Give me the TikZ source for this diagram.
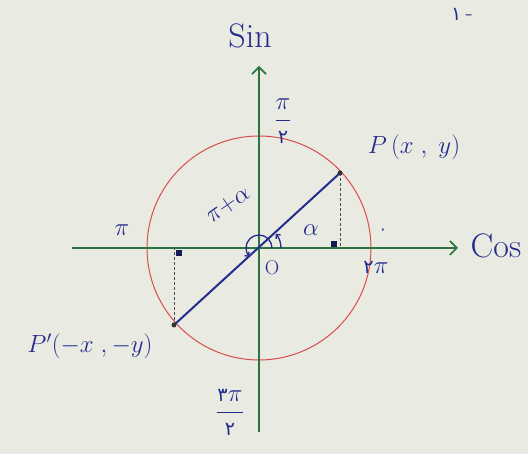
\documentclass[tikz,border=0pt]{standalone}
\usepackage{fontspec}
\newfontfamily\persfont[Script=Arabic,Scale=0.8]{DejaVu Sans}
\usetikzlibrary{arrows.meta, positioning, calc}
\definecolor{inkblue}{RGB}{38,44,140}
\definecolor{axisgreen}{RGB}{45,115,65}
\definecolor{circred}{RGB}{220,75,75}
\definecolor{paper}{RGB}{233,235,227}
\newcommand{\pdig}[1]{{\persfont #1}}

\begin{document}
\begin{tikzpicture}[x=1pt, y=1pt,
  axis/.style={draw=axisgreen, line width=1.6pt, -{Straight Barb[length=7pt,width=14pt,line width=1.6pt]}},
  circ/.style={draw=circred, line width=1pt},
  seg/.style={draw=inkblue, line width=2pt},
  drop/.style={draw=black!70, densely dashed, line width=0.7pt},
  angarc/.style={draw=inkblue, line width=1.3pt, -{Straight Barb[length=3pt,width=6pt]}},
  lbl/.style={text=inkblue, inner sep=1pt, font=\fontsize{24}{28}\selectfont},
  pt/.style={text=inkblue, inner sep=1pt, font=\fontsize{27}{30}\selectfont},
  big/.style={text=inkblue, inner sep=1pt, font=\fontsize{34}{38}\selectfont},
  small/.style={text=inkblue, inner sep=1pt, font=\fontsize{20}{22}\selectfont}
]
\fill[paper] (0,0) rectangle (528,454);
\useasboundingbox (0,0) rectangle (528,454);

\coordinate (O) at (259,206);
\coordinate (xl) at (72,206);
\coordinate (xr) at (458,206);
\coordinate (yb) at (259,22);
\coordinate (yt) at (259,388);
\coordinate (P) at (340,281);
\coordinate (Pp) at (174,129);
\coordinate (Px) at (340,206);
\coordinate (Ppx) at (174,206);

\draw[circ] (O) circle[radius=112pt];
\draw[axis] (xl) -- (xr);
\draw[axis] (yb) -- (yt);
\draw[drop] (P) -- (Px);
\draw[drop] (Pp) -- (Ppx);
\fill[inkblue!60!black] ($(Px)+(-9,1)$) rectangle ++(6,6);
\fill[inkblue!60!black] ($(Ppx)+(2,-8)$) rectangle ++(6,6);
\draw[seg] (Pp) -- (P);
\fill[black!80] (P) circle[radius=2.5pt];
\fill[black!80] (Pp) circle[radius=2.5pt];

\draw[angarc] ($(O)+(22pt,0)$) arc[start angle=0, end angle=40, radius=22pt];
\draw[angarc] ($(O)+(13pt,0)$) arc[start angle=0, end angle=222, radius=13pt];

\node[big] (sin) at (250,418) {Sin};
\node[big] (cos) at (496,208) {Cos};
\node[pt] (pq) at (414,307) {$P\,(x\;,\;y)$};
\node[pt] (ppq) at (90,108) {$P'(-x\;,-y)$};
\node[lbl] (pi) at (122,224) {$\pi$};
\node[lbl, rotate=35, inner sep=0pt] (pia) at (228,249) {$\pi{+}\alpha$};
\node[lbl] (al) at (311,224) {$\alpha$};
\node[small] (o) at (272,186) {O};
\node[small] (zero) at (383,222) {\pdig{۰}};
\node[lbl] (tpi) at (376,187) {\pdig{۲}$\pi$};
\node[lbl] (half) at (283,333) {$\displaystyle\frac{\pi}{\mbox{\pdig{۲}}}$};
\node[lbl] (thalf) at (230,42) {$\displaystyle\frac{\mbox{\pdig{۳}}\pi}{\mbox{\pdig{۲}}}$};
\node[lbl] (num) at (462,440) {\pdig{۱}\,-};
\end{tikzpicture}
\end{document}
